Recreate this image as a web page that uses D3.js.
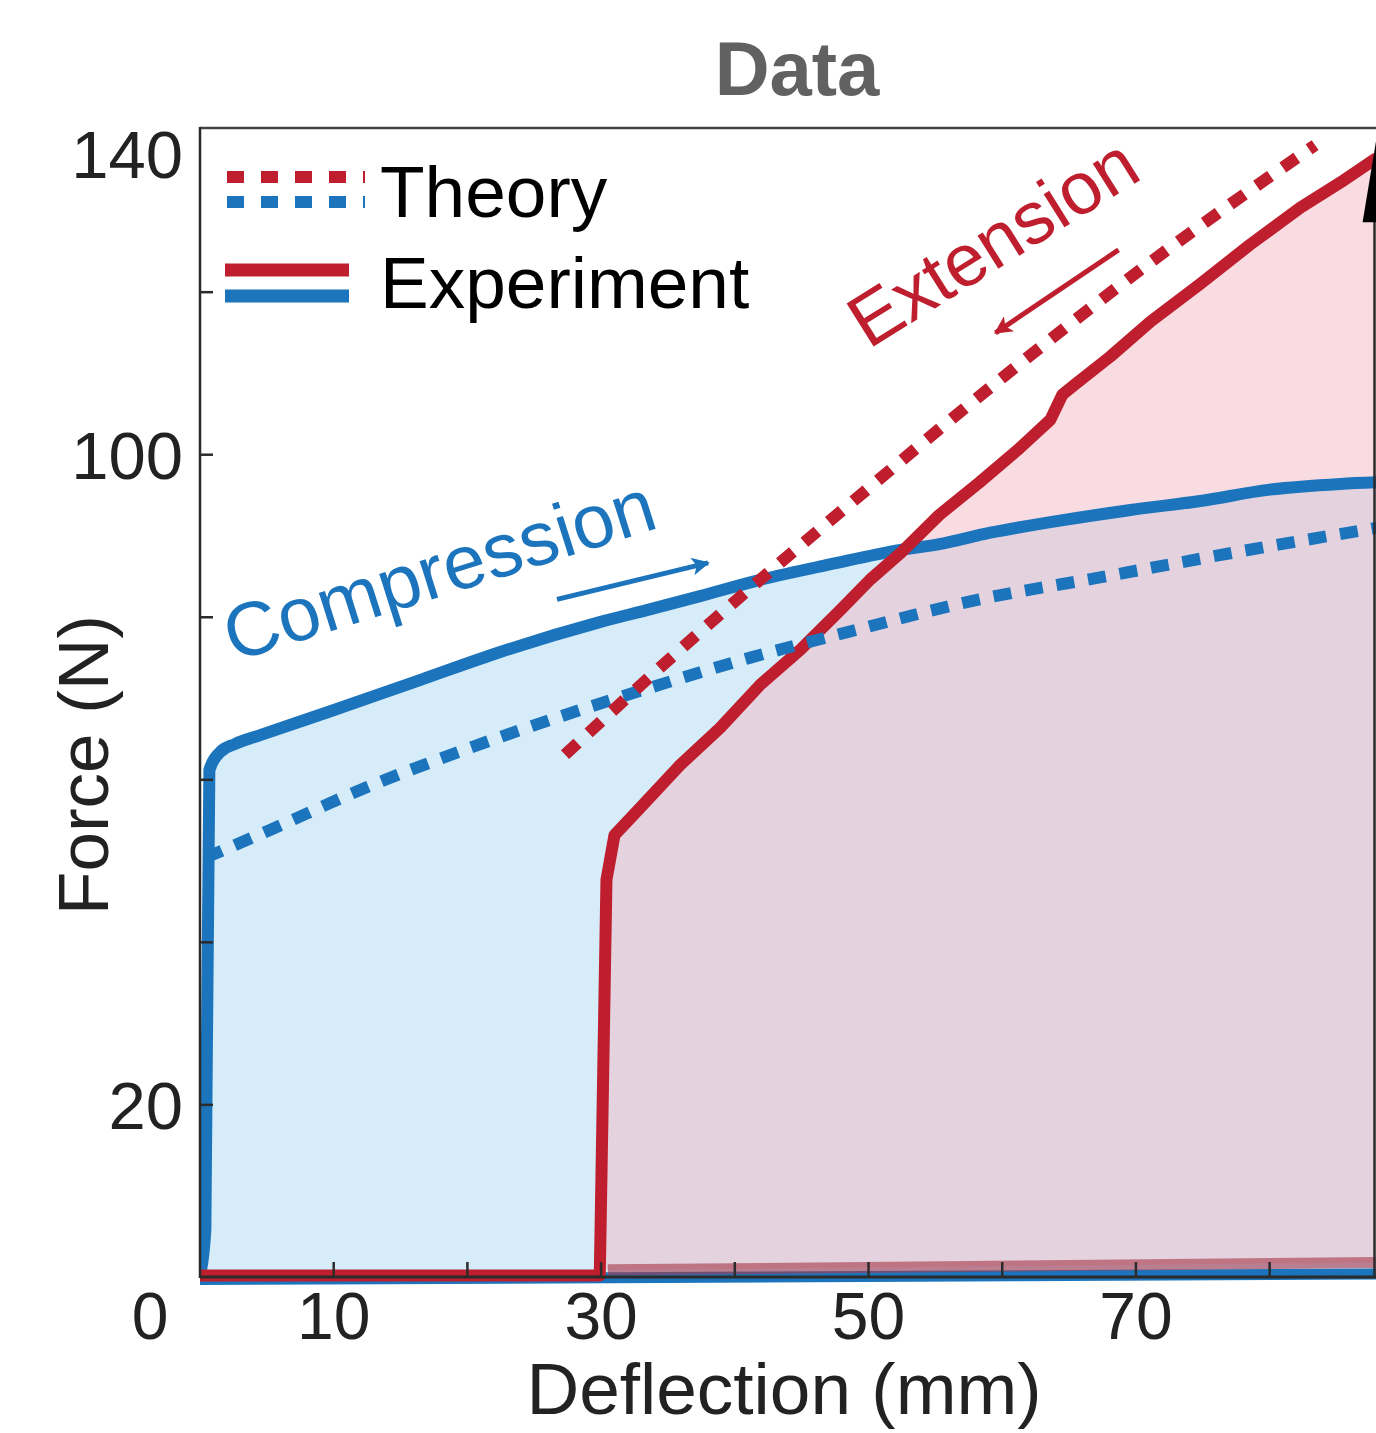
<!DOCTYPE html>
<html lang="en">
<head>
<meta charset="utf-8">
<title>Data</title>
<script src="https://cdnjs.cloudflare.com/ajax/libs/d3/7.8.5/d3.min.js"></script>
<style>
  body { margin: 0; background: #fff; }
  svg text { font-family: "Liberation Sans", Arial, Helvetica, sans-serif; }
</style>
</head>
<body>
<div id="chart"></div>
<script>
// ---- data ----
// experiment, compression: loading branch and return branch
var compUpX = [0, 0.4, 0.7, 1.5, 2.6, 4.5, 9.7, 16.5, 22.4, 29.9, 33.7, 37.4, 41.9, 47.1, 52.4, 55.3, 59.1, 63.6, 69.6, 74.8, 80.0, 85.3, 88.0];
var compUpF = [-0.9, 4.6, 61.2, 63.4, 64.4, 65.5, 68.4, 72.3, 75.7, 79.4, 81.0, 82.6, 84.6, 86.5, 88.3, 89.0, 90.4, 91.7, 93.2, 94.3, 95.7, 96.4, 96.6];
var compDownX = [88.0, 0];
var compDownF = [-0.8, -1.5];
// experiment, extension
var extUpX = [0, 29.9, 30.4, 31.0, 32.9, 35.9, 38.9, 41.9, 44.9, 47.9, 50.1, 52.4, 55.3, 58.3, 61.3, 63.6, 64.5, 65.4, 68.1, 71.1, 74.8, 78.5, 82.3, 85.3, 88.0];
var extUpF = [-1.0, -1.0, 47.7, 53.2, 56.5, 61.8, 66.4, 71.7, 76.0, 80.9, 84.6, 87.9, 92.6, 96.6, 100.8, 104.3, 107.4, 108.6, 112.1, 116.4, 121.0, 125.8, 130.4, 133.5, 136.5];
var extDownX = [88.0, 30.5];
var extDownF = [0.6, -0.3];
// theory
var thCompX = [0.4, 5.2, 12.2, 19.3, 26.6, 33.8, 41.1, 48.5, 58.3, 67.3, 77.8, 88.0];
var thCompF = [50.4, 53.8, 58.9, 63.4, 67.6, 71.4, 75.0, 78.2, 82.2, 84.9, 88.1, 91.0];
var thExtX = [27.3, 37.4, 48.5, 59.8, 71.1, 83.4];
var thExtF = [63.1, 78.2, 93.8, 109.2, 123.7, 138.1];

var xTicks = [10, 20, 30, 40, 50, 60, 70, 80];
var xTickLabels = [10, 30, 50, 70];
var yTicks = [20, 40, 60, 80, 100, 120];
var yTickLabels = [20, 100, 140];

var legendLabels = ["Theory", "Experiment"];
// annotation anchors (data coords)
var compLabel = {x: 2.5, f: 74.5, text: "Compression", angle: -17.5};
var extLabel = {x: 50.0, f: 112.9, text: "Extension", angle: -32};
var compArrow = [[26.7, 82.2], [38.0, 86.7]];
var extArrow = [[68.7, 125.2], [59.5, 115.0]];

var red = "#be1e2d", blue = "#1c75bc";

var W = 1376, H = 1433;
var svg = d3.select("#chart").append("svg")
  .attr("width", W).attr("height", H);

var x = d3.scaleLinear().domain([0, 88]).range([200, 1376.6]);
var y = d3.scaleLinear().domain([-1.3, 140.2]).range([1278, 128]);

function pts(xs, fs) { return xs.map(function(d, i) { return [d, fs[i]]; }); }

var line = d3.line().x(function(d) { return x(d[0]); }).y(function(d) { return y(d[1]); });
var smooth = d3.line().x(function(d) { return x(d[0]); }).y(function(d) { return y(d[1]); }).curve(d3.curveMonotoneX);

var defs = svg.append("defs");
defs.append("clipPath").attr("id", "plotclip").append("rect")
  .attr("x", 200).attr("y", 128).attr("width", 1176).attr("height", 1158);
[["arrB", blue], ["arrR", red]].forEach(function(m) {
  defs.append("marker").attr("id", m[0])
    .attr("viewBox", "0 0 10 10").attr("refX", 9).attr("refY", 5)
    .attr("markerUnits", "userSpaceOnUse")
    .attr("markerWidth", 32).attr("markerHeight", 18)
    .attr("orient", "auto")
    .append("path").attr("d", "M0,0 L10,5 L0,10 L2.5,5 Z").attr("fill", m[1]);
});

var plot = svg.append("g").attr("clip-path", "url(#plotclip)");

var compUp = pts(compUpX, compUpF), compDown = pts(compDownX, compDownF);
var extUp = pts(extUpX, extUpF), extDown = pts(extDownX, extDownF);

// loop fills
plot.append("path")
  .attr("d", smooth(compUp) + line(compDown).replace("M", "L") + "Z")
  .attr("fill", "#d6ecf9");
plot.append("path")
  .attr("d", line(extUp.concat(extDown)) + "Z")
  .attr("fill", "rgb(241,185,195)").attr("fill-opacity", 0.5);

// return branches
plot.append("path").attr("d", line(compDown))
  .attr("fill", "none").attr("stroke", blue).attr("stroke-width", 11);
plot.append("path").attr("d", line(extDown))
  .attr("fill", "none").attr("stroke", "rgb(166,55,76)").attr("stroke-opacity", 0.61).attr("stroke-width", 11);

// frame
var frame = svg.append("g").attr("stroke", "#2b2b2b").attr("fill", "none");
frame.append("line").attr("x1", 200).attr("x2", 1376).attr("y1", 128).attr("y2", 128).attr("stroke-width", 2.5).attr("stroke", "#444");
frame.append("line").attr("x1", 200).attr("x2", 200).attr("y1", 127).attr("y2", 1278).attr("stroke-width", 2.5);
frame.append("line").attr("x1", 200).attr("x2", 1376).attr("y1", 1277).attr("y2", 1277).attr("stroke-width", 3);
frame.append("line").attr("x1", 1374.5).attr("x2", 1374.5).attr("y1", 222).attr("y2", 1278).attr("stroke-width", 2.5);

svg.append("g").selectAll("line").data(xTicks).enter().append("line")
  .attr("x1", function(d) { return x(d); }).attr("x2", function(d) { return x(d); })
  .attr("y1", 1277).attr("y2", 1262)
  .attr("stroke", "#2b2b2b").attr("stroke-width", 2.5);
svg.append("g").selectAll("line").data(yTicks).enter().append("line")
  .attr("x1", 200).attr("x2", 213)
  .attr("y1", function(d) { return y(d); }).attr("y2", function(d) { return y(d); })
  .attr("stroke", "#2b2b2b").attr("stroke-width", 2.5);

// corner arrowhead from neighbouring panel
svg.append("path")
  .attr("d", "M" + (x(88) - 14) + "," + y(128.6) + "L" + (x(88) + 4) + "," + y(142) + "L" + (x(88) + 4) + "," + y(128.6) + "Z")
  .attr("fill", "#000");

// experiment loading branches
plot.append("path").attr("d", smooth(compUp))
  .attr("fill", "none").attr("stroke", blue).attr("stroke-width", 12)
  .attr("stroke-linejoin", "round").attr("stroke-linecap", "round");
plot.append("path").attr("d", line(extUp))
  .attr("fill", "none").attr("stroke", red).attr("stroke-width", 12)
  .attr("stroke-linejoin", "round");

// theory
plot.append("path").attr("d", smooth(pts(thCompX, thCompF)))
  .attr("fill", "none").attr("stroke", blue).attr("stroke-width", 12)
  .attr("stroke-dasharray", "18 14");
plot.append("path").attr("d", smooth(pts(thExtX, thExtF)))
  .attr("fill", "none").attr("stroke", red).attr("stroke-width", 12)
  .attr("stroke-dasharray", "17 15");

// tick labels
svg.append("g").selectAll("text").data(xTickLabels).enter().append("text")
  .attr("x", function(d) { return x(d); }).attr("y", 1339)
  .attr("text-anchor", "middle").attr("font-size", 66).attr("fill", "#222")
  .text(function(d) { return d; });
svg.append("g").selectAll("text").data(yTickLabels).enter().append("text")
  .attr("x", 183).attr("y", function(d) { return y(d) + (d === 140 ? 48 : 24); })
  .attr("text-anchor", "end").attr("font-size", 67).attr("fill", "#222")
  .text(function(d) { return d; });
svg.append("text").attr("x", x(0) - 50).attr("y", y(0) + 72)
  .attr("text-anchor", "middle").attr("font-size", 66).attr("fill", "#222").text("0");

// axis titles
svg.append("text").attr("x", 784).attr("y", 1414)
  .attr("text-anchor", "middle").attr("font-size", 73).attr("fill", "#222")
  .text("Deflection (mm)");
svg.append("text").attr("transform", "translate(108,765) rotate(-90)")
  .attr("text-anchor", "middle").attr("font-size", 71).attr("fill", "#222")
  .text("Force (N)");
svg.append("text").attr("x", 797).attr("y", 95)
  .attr("text-anchor", "middle").attr("font-size", 76).attr("font-weight", "bold").attr("fill", "#616161")
  .text("Data");

// legend
var leg = svg.append("g");
leg.append("line").attr("x1", 227).attr("x2", 365).attr("y1", 177).attr("y2", 177)
  .attr("stroke", red).attr("stroke-width", 12).attr("stroke-dasharray", "17 17");
leg.append("line").attr("x1", 227).attr("x2", 365).attr("y1", 202).attr("y2", 202)
  .attr("stroke", blue).attr("stroke-width", 12).attr("stroke-dasharray", "17 17");
leg.append("line").attr("x1", 225).attr("x2", 349).attr("y1", 270).attr("y2", 270)
  .attr("stroke", red).attr("stroke-width", 13);
leg.append("line").attr("x1", 225).attr("x2", 349).attr("y1", 296).attr("y2", 296)
  .attr("stroke", blue).attr("stroke-width", 13);
leg.selectAll("text").data(legendLabels).enter().append("text")
  .attr("x", 380).attr("y", function(d, i) { return i === 0 ? 217 : 308; })
  .attr("font-size", 73).attr("fill", "#000")
  .text(function(d) { return d; });

// annotations
[[compLabel, blue, 76], [extLabel, red, 74]].forEach(function(a) {
  svg.append("text")
    .attr("transform", "translate(" + x(a[0].x) + "," + y(a[0].f) + ") rotate(" + a[0].angle + ")")
    .attr("font-size", a[2]).attr("fill", a[1]).text(a[0].text);
});
[[compArrow, blue, "arrB"], [extArrow, red, "arrR"]].forEach(function(a) {
  svg.append("path").attr("d", line(a[0]))
    .attr("stroke", a[1]).attr("stroke-width", 5).attr("fill", "none")
    .attr("marker-end", "url(#" + a[2] + ")");
});
</script>
</body>
</html>
